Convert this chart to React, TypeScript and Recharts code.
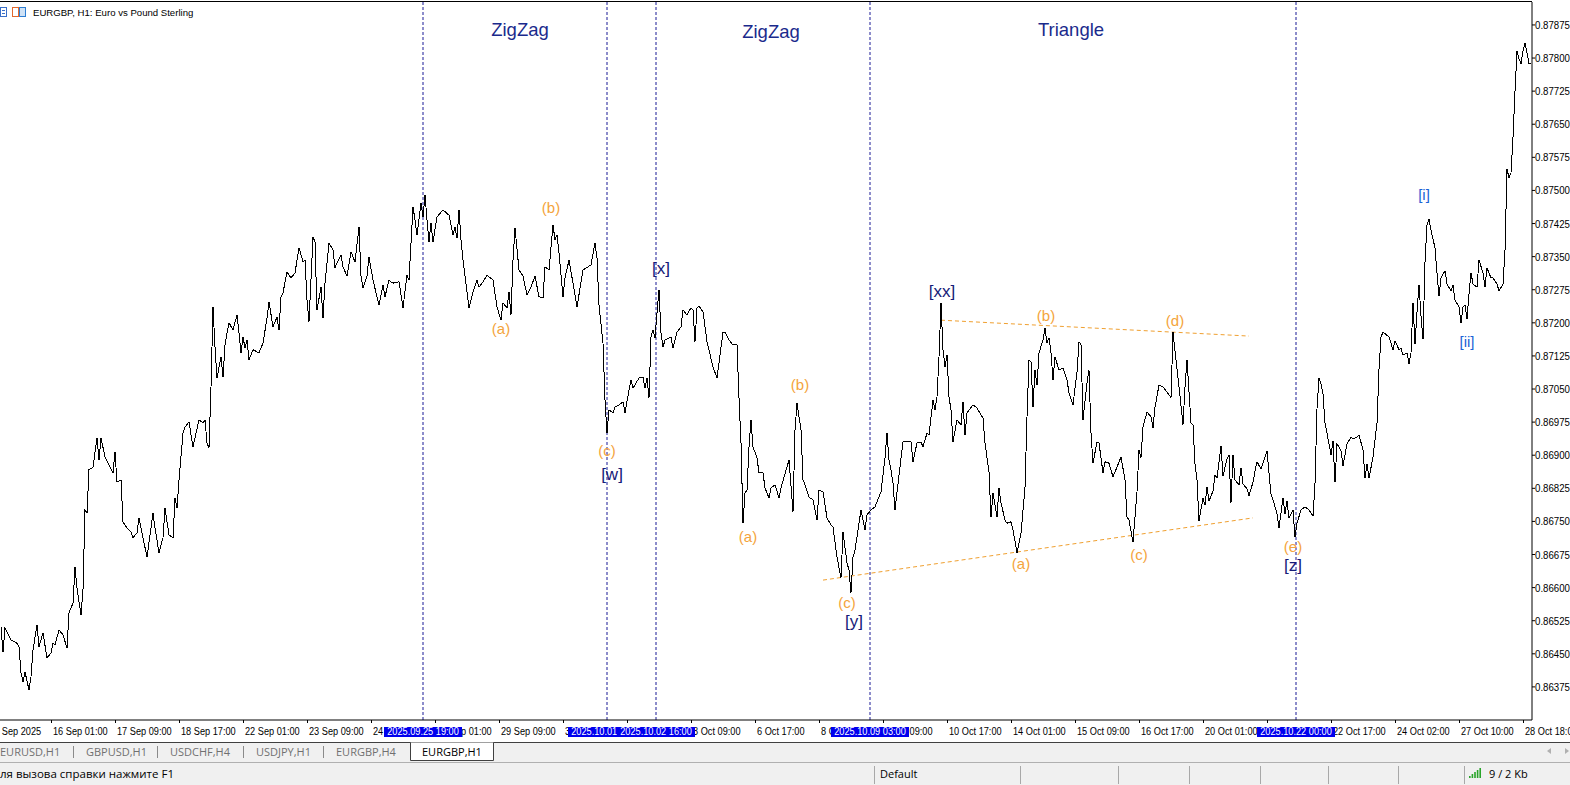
import React from 'react';
import { ComposedChart, Line, XAxis, YAxis, ReferenceLine, Scatter } from 'recharts';

// ---- price series (bar index, close) ----
const seg1: [number, number][] = [
  [0,0.86511],[1,0.86454],[2,0.86509],[5,0.86481],[8,0.86474],[9,0.86466],[10,0.86407],[11,0.86386],[12,0.86409],[14,0.86368],
  [15,0.86398],[16,0.86459],[18,0.86515],[19,0.86466],[21,0.86497],[23,0.86441],[25,0.86452],[26,0.86475],[27,0.86470],[29,0.86504],
  [31,0.86493],[33,0.86463],[34,0.86543],[36,0.86565],[37,0.86647],[38,0.86599],[40,0.86538],[41,0.86595],[42,0.86776],[43,0.86769],
  [44,0.86867],[46,0.86873],[48,0.86939],[49,0.86889],[50,0.86939],[52,0.86896],[54,0.86878],[56,0.86860],[57,0.86907],[58,0.86839],
  [60,0.86844],[61,0.86749],[63,0.86735],[65,0.86726],[66,0.86713],[68,0.86724],[69,0.86758],[71,0.86713],[73,0.86669],[76,0.86769],
  [77,0.86735],[79,0.86679],[81,0.86713],[82,0.86780],[84,0.86719],[86,0.86713],[87,0.86803],[88,0.86780],[89,0.86844],[91,0.86950],
  [92,0.86964],[94,0.86975],[96,0.86919],[99,0.86980],[101,0.86973],[102,0.86980],[103,0.86928],[104,0.86916],[105,0.87055],[106,0.87236],
  [107,0.87145],[108,0.87075],[110,0.87123],[111,0.87077],[112,0.87150],[113,0.87177],[114,0.87200],[116,0.87184],[118,0.87218],[119,0.87177],
  [120,0.87132],[121,0.87168],[122,0.87143],[123,0.87161],[124,0.87116],[126,0.87139],[129,0.87132],[131,0.87154],[133,0.87211],[134,0.87247],
  [136,0.87191],[138,0.87213],[139,0.87184],[140,0.87259],[141,0.87268],[143,0.87315],[145,0.87302],[147,0.87313],[149,0.87370],[151,0.87338],
  [152,0.87342],[153,0.87252],[154,0.87202],[156,0.87395],[157,0.87383],[158,0.87229],[160,0.87281],[161,0.87211],[162,0.87290],[164,0.87381],
  [166,0.87365],[167,0.87324],[168,0.87336],[170,0.87354],[171,0.87327],[173,0.87306],[175,0.87361],[177,0.87338],[179,0.87417],[180,0.87306],
  [181,0.87279],[183,0.87306],[184,0.87349],[186,0.87297],[189,0.87240],[191,0.87286],[192,0.87259],[194,0.87297],
];
const seg2: [number, number][] = [
  [195,0.87293],[196,0.87290],[199,0.87293],[201,0.87234],[203,0.87308],[204,0.87297],[206,0.87463],[207,0.87433],[208,0.87399],[210,0.87472],
  [211,0.87440],[212,0.87490],[213,0.87433],[214,0.87383],[215,0.87426],[216,0.87383],[218,0.87440],[221,0.87456],[224,0.87444],[226,0.87399],
  [227,0.87417],[228,0.87392],[229,0.87456],[230,0.87388],[231,0.87342],[234,0.87234],[236,0.87270],[238,0.87297],[239,0.87281],[241,0.87293],
  [243,0.87308],[246,0.87297],[248,0.87236],[250,0.87206],[251,0.87245],[253,0.87234],[254,0.87270],[255,0.87218],[256,0.87342],[257,0.87415],
  [259,0.87320],[261,0.87306],[263,0.87263],[265,0.87281],[267,0.87306],[269,0.87259],[271,0.87256],[272,0.87327],[274,0.87320],[276,0.87422],
  [277,0.87388],[278,0.87399],[279,0.87358],[281,0.87259],[282,0.87302],[284,0.87342],[286,0.87290],[288,0.87236],[291,0.87320],[295,0.87331],
  [297,0.87381],[298,0.87347],[299,0.87240],[301,0.87154],[302,0.87025],[303,0.86950],[304,0.87003],[306,0.86996],[307,0.87009],[309,0.87014],
  [311,0.87021],[312,0.86996],[314,0.87048],[315,0.87071],[316,0.87052],[319,0.87075],[321,0.87077],[322,0.87052],[323,0.87075],[324,0.87030],
  [325,0.87168],[326,0.87184],[327,0.87166],[328,0.87222],[329,0.87274],[330,0.87177],[331,0.87145],[332,0.87161],[335,0.87168],[336,0.87143],
  [338,0.87179],[340,0.87191],[341,0.87229],[343,0.87218],[345,0.87234],[346,0.87229],[347,0.87157],[348,0.87234],[349,0.87238],[351,0.87225],
  [353,0.87157],[356,0.87100],[358,0.87075],[361,0.87179],[362,0.87179],[364,0.87161],[366,0.87150],[368,0.87150],[369,0.87030],[370,0.86928],
  [371,0.86746],[372,0.86815],[373,0.86821],[374,0.86919],[375,0.86980],[376,0.86919],[378,0.86894],[379,0.86860],[381,0.86860],[382,0.86826],
  [384,0.86803],[385,0.86826],[387,0.86833],[389,0.86803],
];
const seg3: [number, number][] = [
  [390,0.86826],[394,0.86889],[396,0.86771],[397,0.86957],[398,0.87018],[400,0.86957],[401,0.86844],[402,0.86833],[404,0.86805],[406,0.86799],
  [408,0.86753],[409,0.86821],[411,0.86817],[413,0.86758],[415,0.86742],[416,0.86737],[418,0.86669],[420,0.86622],[421,0.86726],[423,0.86656],
  [424,0.86640],[425,0.86588],[426,0.86669],[427,0.86685],[430,0.86776],[432,0.86731],[433,0.86765],[435,0.86776],[437,0.86783],[440,0.86817],
  [442,0.86894],[443,0.86950],[444,0.86889],[445,0.86867],[446,0.86837],[447,0.86776],[449,0.86855],[451,0.86930],[453,0.86930],[455,0.86930],
  [456,0.86885],[458,0.86928],[460,0.86930],[461,0.86919],[463,0.86950],[464,0.86946],[466,0.87025],[467,0.87003],[468,0.87032],[469,0.87123],
  [470,0.87245],[471,0.87139],[472,0.87100],[473,0.87127],[474,0.87032],[475,0.87003],[476,0.86930],[478,0.86980],[480,0.86969],[481,0.87021],
  [482,0.86946],[483,0.86996],[486,0.87014],[488,0.87007],[491,0.86984],[492,0.86928],[494,0.86862],[495,0.86760],[496,0.86815],[498,0.86760],
  [499,0.86826],[500,0.86792],[502,0.86753],[503,0.86746],[505,0.86749],[506,0.86731],[508,0.86679],[510,0.86724],[512,0.86826],[513,0.86987],
  [514,0.87116],[515,0.87111],[516,0.87009],[517,0.87093],[518,0.87059],[519,0.87132],[521,0.87161],[522,0.87188],[523,0.87154],[524,0.87166],
  [525,0.87132],[526,0.87071],[527,0.87123],[529,0.87093],[531,0.87098],[533,0.87071],[534,0.87041],[536,0.87014],[538,0.87089],[539,0.87157],
  [540,0.87150],[541,0.86980],[543,0.87064],[544,0.87093],[545,0.86950],[546,0.86882],[548,0.86930],[549,0.86928],[551,0.86860],[552,0.86885],
  [554,0.86882],[556,0.86851],[558,0.86873],[560,0.86896],[562,0.86844],[563,0.86760],[564,0.86753],[566,0.86703],[568,0.86817],[569,0.86912],
  [570,0.86894],[571,0.86964],[573,0.86998],[575,0.86987],[576,0.86962],[577,0.87009],[579,0.87059],[581,0.87055],[584,0.87037],
];
const seg4: [number, number][] = [
  [585,0.87030],[586,0.87179],[587,0.87136],[589,0.87055],[591,0.86969],[592,0.87055],[593,0.87116],[595,0.86973],[596,0.86969],[597,0.86880],
  [598,0.86844],[599,0.86751],[601,0.86803],[602,0.86787],[603,0.86828],[604,0.86796],[606,0.86819],[607,0.86855],[608,0.86848],[610,0.86921],
  [611,0.86853],[613,0.86892],[614,0.86901],[615,0.86792],[616,0.86901],[617,0.86844],[619,0.86833],[620,0.86871],[621,0.86835],[623,0.86824],
  [624,0.86808],[626,0.86839],[627,0.86864],[628,0.86885],[630,0.86869],[633,0.86910],[634,0.86860],[635,0.86812],[636,0.86799],[638,0.86767],
  [639,0.86735],[641,0.86803],[642,0.86767],[643,0.86796],[644,0.86758],[646,0.86776],[647,0.86715],[648,0.86746],[650,0.86776],[652,0.86783],
  [654,0.86776],[656,0.86762],[657,0.86835],[658,0.87005],[659,0.87075],[660,0.87061],[661,0.87039],[662,0.86973],[664,0.86926],[665,0.86901],
  [666,0.86932],[667,0.86839],[668,0.86926],[670,0.86910],[671,0.86876],[673,0.86926],[675,0.86941],[676,0.86937],[678,0.86941],[679,0.86946],
  [681,0.86912],[682,0.86848],[683,0.86880],[684,0.86848],[686,0.86896],[688,0.86973],[689,0.87095],[690,0.87168],[691,0.87179],[694,0.87168],
  [696,0.87139],[697,0.87159],[699,0.87139],[700,0.87143],[701,0.87127],[703,0.87132],[704,0.87107],[705,0.87132],[706,0.87245],[707,0.87152],
  [708,0.87225],[709,0.87286],[710,0.87216],[711,0.87163],[712,0.87338],[713,0.87422],[714,0.87435],[715,0.87410],[717,0.87370],[718,0.87313],
  [719,0.87261],[720,0.87302],[722,0.87318],[723,0.87288],[725,0.87272],[726,0.87286],[727,0.87252],[729,0.87236],[730,0.87200],[731,0.87236],
  [732,0.87240],[733,0.87209],[734,0.87265],[735,0.87313],[736,0.87288],[738,0.87281],[739,0.87342],[741,0.87313],[742,0.87281],[743,0.87324],
  [745,0.87302],[746,0.87302],[748,0.87288],[749,0.87272],[751,0.87288],[752,0.87363],[753,0.87549],[754,0.87528],[755,0.87540],[756,0.87621],
  [757,0.87725],[758,0.87816],[759,0.87798],[760,0.87787],[761,0.87816],[762,0.87834],[763,0.87812],[764,0.87787],[765,0.87787],
];

// ---- axes ----
const yTicks = [0.86375,0.86450,0.86525,0.86600,0.86675,0.86750,0.86825,0.86900,0.86975,0.87050,0.87125,
  0.87200,0.87275,0.87350,0.87425,0.87500,0.87575,0.87650,0.87725,0.87800,0.87875];
const xTickBars = [-7,25,57,89,121,153,185,217,249,281,313,345,377,409,441,473,505,537,569,601,633,665,697,729,761];
const xTickLabels = ['15 Sep 2025','16 Sep 01:00','17 Sep 09:00','18 Sep 17:00','22 Sep 01:00','23 Sep 09:00','24 Sep 17:00',
  '26 Sep 01:00','29 Sep 09:00','30 Sep 17:00','2 Oct 01:00','3 Oct 09:00','6 Oct 17:00','8 Oct 01:00','9 Oct 09:00',
  '10 Oct 17:00','14 Oct 01:00','15 Oct 09:00','16 Oct 17:00','20 Oct 01:00','21 Oct 09:00','22 Oct 17:00','24 Oct 02:00',
  '27 Oct 10:00','28 Oct 18:00'];

// ---- vertical time lines ----
const vLineBars = [211, 303, 327.5, 434.5, 647.5];
const vLineLabels = ['2025.09.25 19:00','2025.10.01 16:00','2025.10.02 16:00','2025.10.09 03:00','2025.10.22 00:00'];

// ---- triangle boundary lines ----
const upperLineBars = [470, 624];
const upperLinePrices = [0.87206, 0.87170];
const lowerLineBars = [411, 626];
const lowerLinePrices = [0.86617, 0.86758];

// ---- wave labels ----
const waveTexts = ['ZigZag','ZigZag','Triangle',
  '(b)','(a)','(c)','(b)','(a)','(c)','(b)','(a)','(c)','(d)','(e)',
  '[x]','[w]','[y]','[xx]','[z]','[i]','[ii]'];
const waveKinds = ['title','title','title',
  'minor','minor','minor','minor','minor','minor','minor','minor','minor','minor','minor',
  'major','major','major','major','major','sub','sub'];
const waveBars = [259.5,385,535,
  275,250,303,399.5,373.5,423,522.5,510,569,587,646,
  330,305.5,426.5,470.5,646,711.5,733];
const wavePrices = [0.87864,0.87861,0.87864,
  0.87460,0.87188,0.86910,0.87059,0.86715,0.86565,0.87216,0.86654,0.86674,0.87206,0.86694,
  0.87324,0.86858,0.86524,0.87272,0.86651,0.87490,0.87157];

const kindStyle: Record<string, { color: string; size: number }> = {
  title: { color: '#1a2a8c', size: 18.5 },
  minor: { color: '#f4a43c', size: 15 },
  major: { color: '#161a78', size: 17 },
  sub: { color: '#1a62d6', size: 15 },
};

const priceData = [...seg1, ...seg2, ...seg3, ...seg4].map(([b, c]) => ({ b, c }));
const waveData = waveBars.map((b, i) => ({ b, p: wavePrices[i], text: waveTexts[i], kind: waveKinds[i] }));
const allXTicks = [...xTickBars, ...vLineBars];

const SANS = "'Liberation Sans', Arial, sans-serif";
const UI = "'Open Sans', 'Noto Sans', sans-serif";

function XTick(props: any) {
  const { x, y, payload } = props;
  const v = payload.value;
  const fi = vLineBars.indexOf(v);
  if (fi >= 0) {
    return (
      <g>
        <rect x={Math.round(x) - 39} y={y + 4} width={78} height={10} fill="#0000ee" />
        <text
          transform={`translate(${x},${y + 12}) scale(0.8,1)`}
          textAnchor="middle"
          fill="#fff"
          fontFamily={SANS}
          fontSize={11.5}
        >
          {vLineLabels[fi]}
        </text>
      </g>
    );
  }
  const i = xTickBars.indexOf(v);
  const lx = Math.round(x) + 0.5;
  return (
    <g>
      <line x1={lx} x2={lx} y1={y - 3} y2={y} stroke="#000" />
      <text
        transform={`translate(${x + 2},${y + 12}) scale(0.8,1)`}
        fontFamily={SANS}
        fontSize={11.5}
        fill="#000"
        textAnchor="start"
      >
        {xTickLabels[i]}
      </text>
    </g>
  );
}

function YTick(props: any) {
  const { x, y, payload } = props;
  return (
    <text
      transform={`translate(${x},${y + 4}) scale(0.88,1)`}
      fontFamily={SANS}
      fontSize={11}
      fill="#000"
      textAnchor="start"
    >
      {Number(payload.value).toFixed(5)}
    </text>
  );
}

function WaveText(props: any) {
  const { cx, cy } = props;
  const d = props.payload ?? props;
  const st = kindStyle[d.kind];
  return (
    <text x={cx} y={cy} dy="0.36em" textAnchor="middle" fill={st.color} fontSize={st.size} fontFamily={SANS}>
      {d.text}
    </text>
  );
}

const tabs = [
  { t: 'EURUSD,H1', x: 0 },
  { t: 'GBPUSD,H1', x: 86 },
  { t: 'USDCHF,H4', x: 170 },
  { t: 'USDJPY,H1', x: 256 },
  { t: 'EURGBP,H4', x: 336 },
];
const tabSeps = [73, 157, 243, 323];
const statusSeps = [874, 1020, 1118, 1189, 1260, 1328, 1398, 1464];

export default function App() {
  return (
    <div style={{ position: 'absolute', left: 0, top: 0, width: 1570, height: 785, background: '#fff', overflow: 'hidden' }}>
      <style>{`.price-line path { shape-rendering: crispEdges; }`}</style>
      <ComposedChart width={1570} height={785} data={priceData} margin={{ top: 2, right: 0, bottom: 45, left: 0 }}>
        <XAxis
          type="number"
          dataKey="b"
          domain={[-0.5, 765.5]}
          allowDataOverflow
          ticks={allXTicks}
          interval={0}
          height={20}
          tickSize={3}
          tickMargin={0}
          tick={<XTick />}
          axisLine={{ stroke: '#000' }}
          tickLine={false}
        />
        <YAxis
          orientation="right"
          type="number"
          domain={[0.863, 0.87927]}
          allowDataOverflow
          ticks={yTicks}
          interval={0}
          width={38}
          tickSize={3}
          tickMargin={0}
          tick={<YTick />}
          axisLine={{ stroke: '#000' }}
          tickLine={{ stroke: '#000' }}
        />
        {vLineBars.map((b, i) => (
          <ReferenceLine key={'v' + i} x={b} stroke="#1b1b96" strokeDasharray="3 2" />
        ))}
        <ReferenceLine
          segment={[{ x: upperLineBars[0], y: upperLinePrices[0] }, { x: upperLineBars[1], y: upperLinePrices[1] }]}
          stroke="#f0a030"
          strokeDasharray="4 3"
        />
        <ReferenceLine
          segment={[{ x: lowerLineBars[0], y: lowerLinePrices[0] }, { x: lowerLineBars[1], y: lowerLinePrices[1] }]}
          stroke="#f0a030"
          strokeDasharray="4 3"
        />
        <Line
          className="price-line"
          type="linear"
          dataKey="c"
          stroke="#000"
          strokeWidth={1}
          dot={false}
          activeDot={false}
          isAnimationActive={false}
        />
        <Scatter data={waveData} dataKey="p" shape={WaveText} isAnimationActive={false} />
      </ComposedChart>

      <svg width={1570} height={785} style={{ position: 'absolute', left: 0, top: 0, pointerEvents: 'none' }}>
        <line x1={0} x2={1532} y1={1.5} y2={1.5} stroke="#000" />
        <rect x={0.5} y={7.5} width={6} height={9} fill="#fff" stroke="#3a6fc8" />
        <line x1={2} x2={5} y1={10.5} y2={10.5} stroke="#3a6fc8" />
        <line x1={2} x2={5} y1={13.5} y2={13.5} stroke="#3a6fc8" />
        <rect x={12.5} y={7.5} width={6} height={9} fill="#fff" stroke="#e4682c" />
        <rect x={19.5} y={7.5} width={6} height={9} fill="#cfe2f6" stroke="#2d7dd2" />
        <text x={33} y={16} fontFamily={SANS} fontSize={9.6} fill="#000">EURGBP, H1:  Euro vs Pound Sterling</text>

        <rect x={0} y={742} width={1570} height={21} fill="#f0f0f0" />
        <line x1={0} x2={1570} y1={742.5} y2={742.5} stroke="#404040" />
        <path d="M410.5 742.5 V760.5 H493.5 V742.5" fill="#fff" stroke="#404040" />
        {tabs.map((t) => (
          <text key={t.t} x={t.x} y={756} fontFamily={UI} fontSize={11} fill="#707070">{t.t}</text>
        ))}
        <text x={422} y={756} fontFamily={UI} fontSize={11} fill="#000">EURGBP,H1</text>
        {tabSeps.map((x) => (
          <line key={'ts' + x} x1={x + 0.5} x2={x + 0.5} y1={746} y2={758} stroke="#8a8a8a" />
        ))}
        <path d="M1551 748 L1547 751 L1551 754 Z" fill="#b0b0b0" />
        <path d="M1565 748 L1569 751 L1565 754 Z" fill="#b0b0b0" />

        <line x1={0} x2={1570} y1={762.5} y2={762.5} stroke="#b0b0b0" />
        <rect x={0} y={763} width={1570} height={22} fill="#f0f0f0" />
        <text x={0} y={778} fontFamily={UI} fontSize={11.5} fill="#000">ля вызова справки нажмите F1</text>
        {statusSeps.map((x) => (
          <line key={'ss' + x} x1={x + 0.5} x2={x + 0.5} y1={766} y2={784} stroke="#a8a8a8" />
        ))}
        <text x={880} y={778} fontFamily={UI} fontSize={11} fill="#000">Default</text>
        {[0, 1, 2, 3, 4].map((k) => (
          <rect key={'sig' + k} x={1469 + k * 2.6} y={778 - (k + 1) * 2} width={1.6} height={(k + 1) * 2} fill="#2aa52a" />
        ))}
        <text x={1489} y={778} fontFamily={UI} fontSize={11} fill="#000">9 / 2 Kb</text>
      </svg>
    </div>
  );
}
